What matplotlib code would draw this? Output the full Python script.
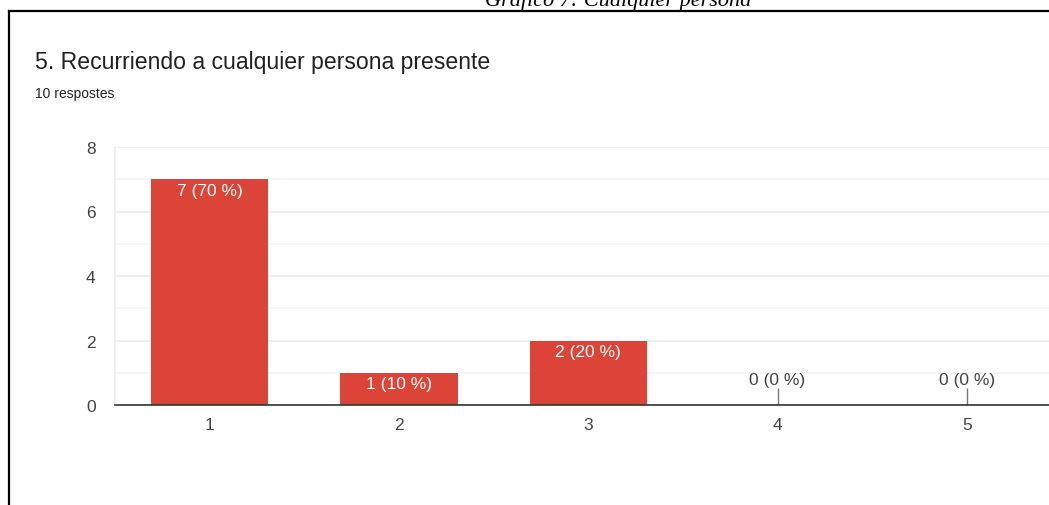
import matplotlib.pyplot as plt
from matplotlib.lines import Line2D

# data
categories = [1, 2, 3, 4, 5]
counts = [7, 1, 2, 0, 0]
total = 10

title = "5. Recurriendo a cualquier persona presente"
subtitle = f"{total} respostes"
caption = "Gráfico 7: Cualquier persona"

BAR_RED = "#DB4437"
TEXT_DARK = "#212121"
TEXT_GRAY = "#444444"

W, H = 1049, 506
fig = plt.figure(figsize=(W / 100, H / 100), dpi=100)
plt.rcParams['font.family'] = ['Liberation Sans', 'DejaVu Sans']


def px(x, y):
    # pixel coords (from top-left) -> figure fraction
    return x / W, 1 - y / H


# border box (only left + top visible in crop)
fig.add_artist(Line2D([8.5 / W, 8.5 / W], [0, 1 - 11.5 / H], color="black", lw=1.6,
                      transform=fig.transFigure))
fig.add_artist(Line2D([8.5 / W, 1], [1 - 11.5 / H, 1 - 11.5 / H], color="black", lw=1.6,
                      transform=fig.transFigure))

# caption above the box (cut off at the top, as in the source)
fig.text(*px(618, 6), caption, ha="center", va="baseline", fontsize=16,
         family="Liberation Serif", style="italic", color="black")

fig.text(*px(35, 63), title, ha="left", va="center", fontsize=16.6, color=TEXT_DARK)
fig.text(*px(35, 94), subtitle, ha="left", va="center", fontsize=10, color=TEXT_DARK)

# axes: y=0 at 406px, y=8 at 148px, x=0.5 at 115px, one category = 189.3px
left, bottom = px(115, 406)
ax = fig.add_axes([left, bottom, 5 * 189.3 / W, (406 - 148) / H])

x = categories
bars = ax.bar(x, counts, width=0.62, color=BAR_RED, zorder=3)

ax.set_xlim(0.5, 5.5)
ax.set_ylim(0, 8)
ax.set_yticks([0, 2, 4, 6, 8])
ax.set_yticks([1, 3, 5, 7], minor=True)
ax.set_xticks(x)
ax.grid(axis="y", which="major", color="#EBEBEB", lw=1.2, zorder=0)
ax.grid(axis="y", which="minor", color="#F4F4F4", lw=1.2, zorder=0)
ax.tick_params(axis="both", which="both", length=0, labelsize=12.5, colors=TEXT_GRAY)
ax.tick_params(axis="y", pad=14)
ax.tick_params(axis="x", pad=9)

for side in ["top", "right"]:
    ax.spines[side].set_visible(False)
ax.spines["left"].set_color("#EBEBEB")
ax.spines["left"].set_linewidth(1.2)
ax.spines["bottom"].set_color("#333333")
ax.spines["bottom"].set_linewidth(1.2)
ax.spines["bottom"].set_zorder(4)

for xi, c in zip(x, counts):
    label = f"{c} ({c * 100 // total} %)"
    if c > 0:
        ax.text(xi, c - 0.34, label, ha="center", va="center", color="white",
                fontsize=12.5, zorder=5)
    else:
        ax.vlines(xi, 0, 0.53, color="#777777", lw=1, zorder=4)
        ax.text(xi, 0.78, label, ha="center", va="center", color=TEXT_GRAY,
                fontsize=12.5, zorder=5)

fig.savefig("out.png", dpi=100)
